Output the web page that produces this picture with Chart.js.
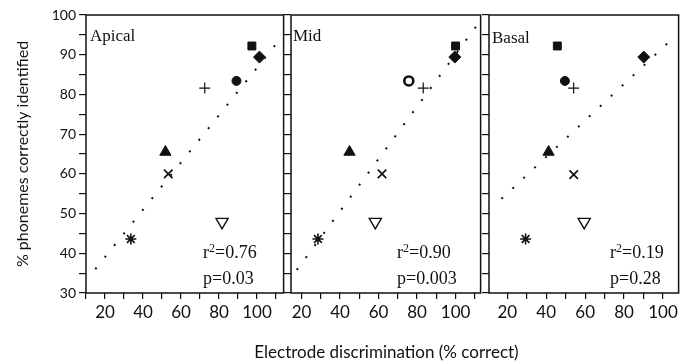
<!DOCTYPE html>
<html><head><meta charset="utf-8">
<script src="https://cdn.jsdelivr.net/npm/chart.js@4.4.1/dist/chart.umd.min.js"></script>
<style>
html,body{margin:0;padding:0;background:#fff;}
body{width:687px;height:363px;position:relative;overflow:hidden;}
canvas{position:absolute;top:0;}
#xtitle{position:absolute;left:86px;width:601px;top:342px;line-height:20px;text-align:center;font-family:Lato,sans-serif;font-size:17px;color:#111;white-space:nowrap;}
</style></head><body>
<canvas id="c1" width="292" height="363" style="left:0"></canvas>
<canvas id="c2" width="208" height="363" style="left:281px"></canvas>
<canvas id="c3" width="208" height="363" style="left:479px"></canvas>
<div id="xtitle">Electrode discrimination (% correct)</div>
<script>
// ---- data ----
const markers = ['square','diamond','circle','plus','triangle','cross','asterisk','invertedTriangle'];
const apicalX = [97.3, 101.3, 89.2, 72.5, 51.8, 53.3, 33.6, 81.6];
const apicalY = [92.2, 89.4, 83.4, 81.6, 65.5, 60.0, 43.6, 47.9];
const midX    = [100.0, 99.6, 75.7, 83.2, 44.9, 61.8, 28.5, 58.3];
const midY    = [92.2, 89.4, 83.4, 81.6, 65.5, 60.0, 43.6, 47.9];
const basalX  = [45.7, 90.1, 49.6, 54.1, 41.2, 54.1, 29.4, 59.5];
const basalY  = [92.2, 89.4, 83.4, 81.6, 65.5, 59.8, 43.6, 47.9];
const apicalFitX = [14.9, 110.4];
const apicalFitY = [36.0, 92.9];
const midFitX = [17.5, 112.0];
const midFitY = [35.8, 98.0];
const basalFitX = [17.0, 106.9];
const basalFitY = [53.7, 95.0];
const panelNames = ['Apical', 'Mid', 'Basal'];
const r2Values = ['0.76', '0.90', '0.19'];
const pValues = ['0.03', '0.003', '0.28'];
const yTickValues = [30,35,40,45,50,55,60,65,70,75,80,85,90,95,100];
const yTickLabels = [30,40,50,60,70,80,90,100];
const xTickValues = [10,20,30,40,50,60,70,80,90,100,110];
const xTickLabels = [20,40,60,80,100];
const yTitle = '% phonemes correctly identified';

// ---- styles ----
const INK = '#111';
const markerStyle = {
  square:   {ps:'rect',     r:5.6, rot:0,   bw:1,   fill:true},
  diamond:  {ps:'rectRot',  r:6,   rot:0,   bw:1,   fill:true},
  circle:   {ps:'circle',   r:4.5, rot:0,   bw:1,   fill:true},
  plus:     {ps:'cross',    r:5.5, rot:0,   bw:1.2, fill:false},
  triangle: {ps:'triangle', r:6.5, rot:0,   bw:1,   fill:true},
  cross:    {ps:'crossRot', r:6,   rot:0,   bw:1.7, fill:false},
  asterisk: {ps:'star',     r:5.5, rot:0,   bw:1.6, fill:false},
  invertedTriangle: {ps:'triangle', r:7, rot:180, bw:1.4, fill:false}
};

const frame = {
  id:'frame',
  afterDraw(c){
    const {ctx, chartArea:a} = c;
    ctx.save(); ctx.strokeStyle = INK; ctx.lineWidth = 1.5;
    ctx.strokeRect(a.left, a.top, a.right-a.left, a.bottom-a.top);
    ctx.restore();
  }
};
const notes = {
  id:'notes',
  afterDatasetsDraw(c, args, o){
    const {ctx, chartArea:a} = c;
    ctx.save(); ctx.fillStyle = INK; ctx.textBaseline = 'alphabetic'; ctx.textAlign='left';
    ctx.font = '17px "Liberation Serif", serif';
    ctx.fillText(o.name, a.left + o.nameDx, a.top + o.nameDy);
    ctx.font = '18px "Liberation Serif", serif';
    let x = a.left + o.statDx, y1 = a.top + 243, y2 = a.top + 269;
    ctx.fillText('r', x, y1);
    let w = ctx.measureText('r').width;
    ctx.font = '12px "Liberation Serif", serif';
    ctx.fillText('2', x + w, y1 - 6);
    let w2 = ctx.measureText('2').width;
    ctx.font = '18px "Liberation Serif", serif';
    ctx.fillText('=' + o.r2, x + w + w2, y1);
    ctx.fillText('p=' + o.p, x, y2);
    ctx.restore();
  }
};

function makeChart(id, idx, xs, ys, fitX, fitY, xMin, xMax, yAxisWidth, showY, circleFill, nameDx, nameDy, statDx){
  const st = markers.map(m => markerStyle[m]);
  const bg = markers.map((m,i) => m === 'circle' ? circleFill : (st[i].fill ? INK : '#fff'));
  const circleBw = markers.map((m,i) => m === 'circle' && circleFill === '#fff' ? 2.6 : st[i].bw);
  return new Chart(document.getElementById(id), {
    type:'scatter',
    data:{ datasets:[
      { type:'line', data: fitX.map((x,i)=>({x, y:fitY[i]})), borderColor:INK, borderWidth:2,
        borderDash:[2,13], pointRadius:0, fill:false, tension:0 },
      { data: xs.map((x,i)=>({x, y:ys[i]})),
        pointStyle: st.map(s=>s.ps), pointRadius: st.map(s=>s.r), pointRotation: st.map(s=>s.rot),
        pointBorderWidth: circleBw, pointBackgroundColor: bg, pointBorderColor: INK,
        pointHoverRadius: st.map(s=>s.r) }
    ]},
    options:{
      responsive:false, animation:false, devicePixelRatio:1,
      layout:{padding:{top:15,left:0,right:0,bottom:0}},
      plugins:{legend:{display:false}, tooltip:{enabled:false},
        notes:{name:panelNames[idx], r2:r2Values[idx], p:pValues[idx], nameDx, nameDy, statDx}},
      scales:{
        x:{type:'linear', min:xMin, max:xMax,
          afterBuildTicks: s => { s.ticks = xTickValues.filter(v => v>=s.min && v<=s.max).map(v=>({value:v})); },
          ticks:{callback: v => xTickLabels.includes(v) ? String(v) : '', font:{family:'Lato', size:17}, color:INK,
                 padding:3, maxRotation:0, autoSkip:false},
          grid:{drawOnChartArea:false, drawTicks:true, tickLength:6, color:INK, lineWidth:1.2},
          border:{display:false},
          afterFit: s => { s.height = 70; }
        },
        y:{type:'linear', min:30, max:100,
          afterBuildTicks: s => { s.ticks = yTickValues.map(v=>({value:v})); },
          ticks:{callback: v => showY && yTickLabels.includes(v) ? String(v) : '', font:{family:'Lato', size:14}, color:INK,
                 padding:3, autoSkip:false},
          grid:{drawOnChartArea:false, drawTicks:true, tickLength:7, color:INK, lineWidth:1.2},
          border:{display:false},
          title: showY ? {display:true, text:yTitle, font:{family:'Lato', size:16}, color:INK, padding:{top:13,bottom:0}} : {display:false},
          afterFit: s => { s.width = yAxisWidth; }
        }
      }
    },
    plugins:[frame, notes]
  });
}

makeChart('c1', 0, apicalX, apicalY, apicalFitX, apicalFitY, 10, 114, 86, true, INK, 4, 26, 117);
makeChart('c2', 1, midX, midY, midFitX, midFitY, 14.5, 113, 10, false, '#fff', 2, 26, 106);
makeChart('c3', 2, basalX, basalY, basalFitX, basalFitY, 10.6, 108, 10, false, INK, 3, 28, 121);
</script>
</body></html>
